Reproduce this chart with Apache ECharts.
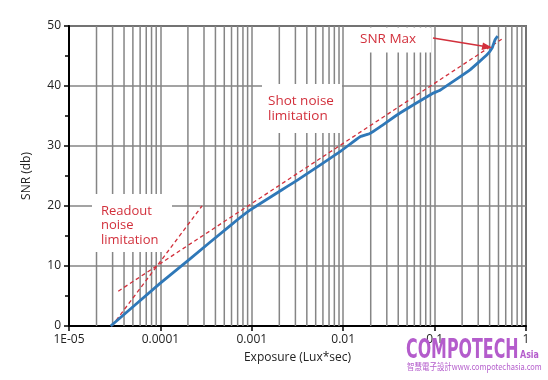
<!DOCTYPE html>
<html><head><meta charset="utf-8">
<script src="https://cdn.jsdelivr.net/npm/echarts@6/dist/echarts.min.js"></script>
<style>html,body{margin:0;padding:0;background:#fff}#c{width:548px;height:380px}</style>
</head><body><div id="c"></div>
<script>
// Measured SNR curve (exposure in Lux*sec, SNR in dB)
var snrExposure = [2.86e-5, 9.91e-5, 2.11e-4, 5.77e-4, 9.55e-4, 3.37e-3, 9.23e-3, 0.0153, 0.0196, 0.0253, 0.0418, 0.0959, 0.1146, 0.244, 0.374, 0.425, 0.458, 0.49];
var snrValues   = [0, 7.1, 11.2, 16.7, 19.3, 24.6, 29.05, 31.55, 32.1, 33.2, 35.5, 38.8, 39.3, 42.7, 45.2, 46.3, 47.7, 48.3];
// Shot noise limitation (dashed)
var shotExposure = [3.46e-5, 0.542];
var shotValues = [5.8, 47.8];
// Readout noise limitation (dashed)
var readExposure = [2.95e-5, 2.85e-4];
var readValues = [0, 20];
// Axis tick labels
var xTickLabels = ['1E-05', '0.0001', '0.001', '0.01', '0.1', '1'];
var yTicks = [0, 10, 20, 30, 40, 50];

var minorX = [];
for (var d = -5; d < 0; d++) {
  for (var m = 2; m <= 9; m++) minorX.push(m * Math.pow(10, d));
}
function pairs(xs, ys) { return xs.map(function (x, i) { return [x, ys[i]]; }); }

var red = '#d2303c';
var gridGray = '#858585';
var series = minorX.map(function (v) {
  return {type: 'line', z: 1, silent: true, symbol: 'none', data: [[v, yTicks[0]], [v, yTicks[yTicks.length - 1]]],
    lineStyle: {color: gridGray, width: 1.5}};
});
series.push(
  {type: 'line', z: 5, data: pairs(readExposure, readValues), symbol: 'none',
    lineStyle: {color: red, width: 1.3, type: [4, 3]}},
  {type: 'line', z: 5, data: pairs(shotExposure, shotValues), symbol: 'none',
    lineStyle: {color: red, width: 1.3, type: [4, 3]}},
  {type: 'line', z: 6, data: pairs(snrExposure, snrValues), symbol: 'none', smooth: 0.1,
    lineStyle: {color: '#2f78b8', width: 2.8, join: 'round'}}
);

var chart = echarts.init(document.getElementById('c'), null, {renderer: 'canvas'});
chart.setOption({
  animation: false,
  grid: {left: 69, right: 22, top: 26, bottom: 54, show: true, borderColor: '#000', borderWidth: 1.5, backgroundColor: 'transparent'},
  xAxis: {
    type: 'log', logBase: 10, min: 1e-5, max: 1,
    name: 'Exposure (Lux*sec)', nameLocation: 'middle', nameGap: 26,
    nameTextStyle: {fontFamily: 'Open Sans', fontSize: 12, color: '#222'},
    axisLine: {lineStyle: {color: '#000', width: 2}},
    axisTick: {show: true, length: 5, lineStyle: {color: '#000', width: 1.5}},
    axisLabel: {fontFamily: 'Open Sans', fontSize: 12, color: '#222', margin: 8,
      formatter: function (v) { return xTickLabels[Math.round(Math.log10(v)) + 5]; }},
    splitLine: {show: true, lineStyle: {color: gridGray, width: 1.5}}
  },
  yAxis: {
    type: 'value', min: yTicks[0], max: yTicks[yTicks.length - 1], interval: 10,
    name: 'SNR (db)', nameLocation: 'middle', nameGap: 36, nameRotate: 90,
    nameTextStyle: {fontFamily: 'Open Sans', fontSize: 12, color: '#222'},
    axisLine: {lineStyle: {color: '#000', width: 2}},
    axisTick: {show: true, length: 5, lineStyle: {color: '#000', width: 1.5}},
    minorTick: {show: true, splitNumber: 2, length: 4, lineStyle: {color: '#000', width: 1.5}},
    axisLabel: {fontFamily: 'Open Sans', fontSize: 12, color: '#222', margin: 8},
    splitLine: {show: true, lineStyle: {color: gridGray, width: 1.5}}
  },
  graphic: [
    {type: 'rect', z: 2, shape: {x: 92, y: 194, width: 80, height: 58}, style: {fill: '#fff'}},
    {type: 'rect', z: 2, shape: {x: 262, y: 84, width: 80, height: 49}, style: {fill: '#fff'}},
    {type: 'rect', z: 2, shape: {x: 347, y: 27.5, width: 84, height: 25}, style: {fill: '#fff'}},
    {type: 'text', z: 10, x: 101, y: 204, style: {text: 'Readout\nnoise\nlimitation', fill: red, font: '13px "Open Sans"', lineHeight: 14.5}},
    {type: 'text', z: 10, x: 268, y: 94, style: {text: 'Shot noise\nlimitation', fill: red, font: '13.5px "Open Sans"', lineHeight: 14.5}},
    {type: 'text', z: 10, x: 360, y: 32, style: {text: 'SNR Max', fill: red, font: '13.5px "Open Sans"'}},
    {type: 'line', z: 10, shape: {x1: 433, y1: 38, x2: 485, y2: 46.5}, style: {stroke: red, lineWidth: 1.5}},
    {type: 'polygon', z: 10, shape: {points: [[492, 47.6], [483, 42.5], [481.5, 50]]}, style: {fill: red}},
    {type: 'text', z: 10, x: 406, y: 338, scaleX: 0.61, style: {text: 'COMPOTECH', fill: '#b45ccc', font: 'bold 26px "DejaVu Sans"'}},
    {type: 'text', z: 10, x: 520, y: 350, scaleX: 0.72, style: {text: 'Asia', fill: '#b45ccc', font: 'bold 11px "DejaVu Sans"'}},
    {type: 'text', z: 10, x: 407, y: 362, scaleX: 0.83, style: {text: '智慧電子設計www.compotechasia.com', fill: '#b45ccc', font: '9px "Noto Sans CJK TC"'}}
  ],
  series: series
});
</script></body></html>
